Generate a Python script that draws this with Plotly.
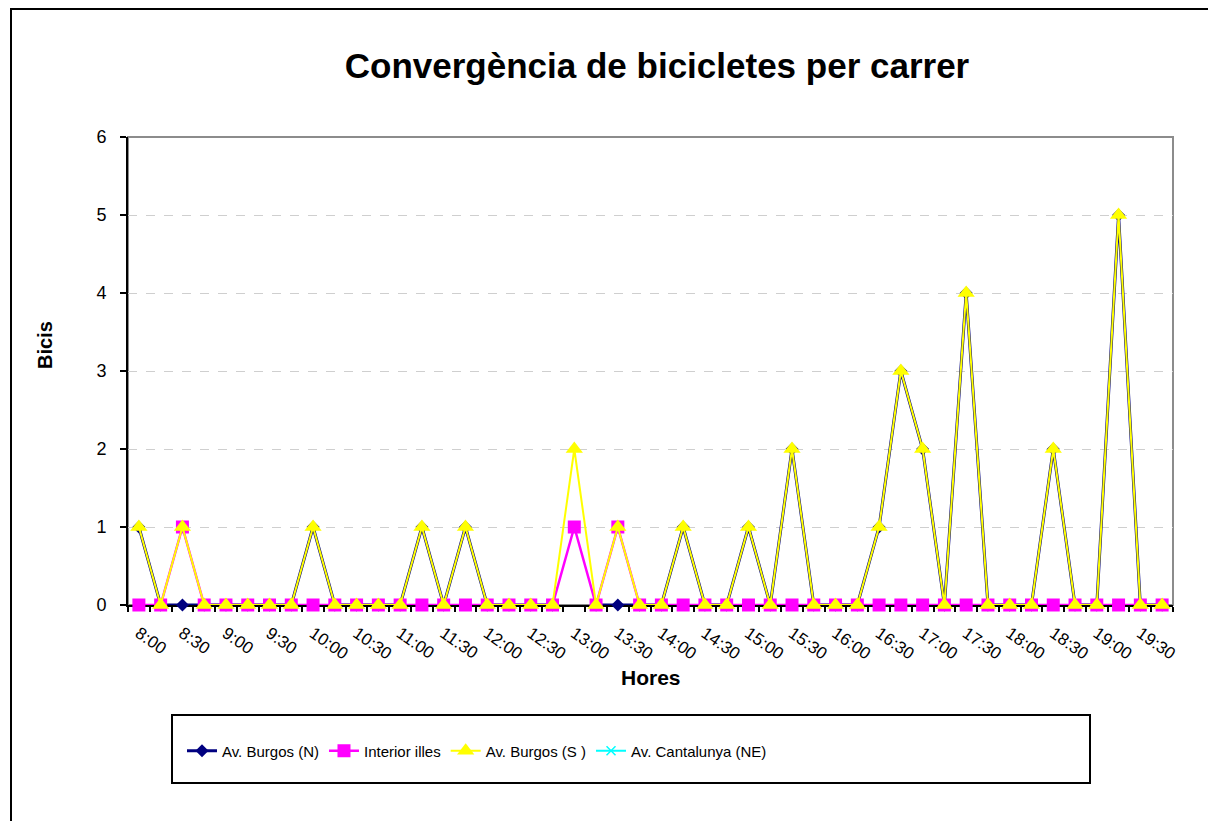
import plotly.graph_objects as go

# franges de 15 minuts
hores = ["8:00", "8:15", "8:30", "8:45", "9:00", "9:15", "9:30", "9:45",
         "10:00", "10:15", "10:30", "10:45", "11:00", "11:15", "11:30", "11:45",
         "12:00", "12:15", "12:30", "12:45", "13:00", "13:15", "13:30", "13:45",
         "14:00", "14:15", "14:30", "14:45", "15:00", "15:15", "15:30", "15:45",
         "16:00", "16:15", "16:30", "16:45", "17:00", "17:15", "17:30", "17:45",
         "18:00", "18:15", "18:30", "18:45", "19:00", "19:15", "19:30", "19:45"]

etiquetes = ["8:00", "", "8:30", "", "9:00", "", "9:30", "",
             "10:00", "", "10:30", "", "11:00", "", "11:30", "",
             "12:00", "", "12:30", "", "13:00", "", "13:30", "",
             "14:00", "", "14:30", "", "15:00", "", "15:30", "",
             "16:00", "", "16:30", "", "17:00", "", "17:30", "",
             "18:00", "", "18:30", "", "19:00", "", "19:30", ""]

av_burgos_n = [1, 0, 0, 0, 0, 0, 0, 0, 1, 0, 0, 0, 0, 1, 0, 1,
               0, 0, 0, 0, None, 0, 0, 0, 0, 1, 0, 0, 1, 0, 2, 0,
               0, 0, 1, 3, 2, 0, 4, 0, 0, 0, 2, 0, 0, 5, 0, 0]

interior_illes = [0, 0, 1, 0, 0, 0, 0, 0, 0, 0, 0, 0, 0, 0, 0, 0,
                  0, 0, 0, 0, 1, 0, 1, 0, 0, 0, 0, 0, 0, 0, 0, 0,
                  0, 0, 0, 0, 0, 0, 0, 0, 0, 0, 0, 0, 0, 0, 0, 0]

av_burgos_s = [1, 0, 1, 0, 0, 0, 0, 0, 1, 0, 0, 0, 0, 1, 0, 1,
               0, 0, 0, 0, 2, 0, 1, 0, 0, 1, 0, 0, 1, 0, 2, 0,
               0, 0, 1, 3, 2, 0, 4, 0, 0, 0, 2, 0, 0, 5, 0, 0]

av_cantalunya_ne = [None] * 48  # sense dades

FONT = "Liberation Sans, Arial, sans-serif"

fig = go.Figure()
fig.add_trace(go.Scatter(x=hores, y=av_burgos_n, name="Av. Burgos (N)", mode="lines+markers",
                         line=dict(color="#000080", width=3),
                         marker=dict(symbol="diamond", size=10, color="#000080"),
                         connectgaps=False, cliponaxis=False))
fig.add_trace(go.Scatter(x=hores, y=interior_illes, name="Interior illes", mode="lines+markers",
                         line=dict(color="#FF00FF", width=2.5),
                         marker=dict(symbol="square", size=13, color="#FF00FF"),
                         cliponaxis=False))
fig.add_trace(go.Scatter(x=hores, y=av_burgos_s, name="Av. Burgos (S )", mode="lines+markers",
                         line=dict(color="#FFFF00", width=2),
                         marker=dict(symbol="triangle-up", size=15, color="#FFFF00"),
                         cliponaxis=False))
fig.add_trace(go.Scatter(x=hores, y=av_cantalunya_ne, name="Av. Cantalunya (NE)", mode="lines+markers",
                         line=dict(color="#00FFFF", width=2),
                         marker=dict(symbol="x-thin-open", size=9, line=dict(color="#00FFFF", width=1.5))))

W, H = 1208, 821
L, R, T, B = 128, 35, 137, 216
pw, ph = W - L - R, H - T - B

def px(x):
    return (x - L) / pw

def py(y):
    return (T + ph - y) / ph

fig.update_layout(
    width=W, height=H,
    margin=dict(l=L, r=R, t=T, b=B),
    paper_bgcolor="white", plot_bgcolor="white",
    font=dict(family=FONT, color="black", size=16),
    title=dict(text="<b>Convergència de bicicletes per carrer</b>",
               font=dict(size=35, family=FONT), xref="paper", x=px(657), xanchor="center",
               y=1 - 66 / H, yref="container", yanchor="middle"),
    xaxis=dict(type="category", range=[-0.5, 47.5], tickmode="array",
               tickvals=hores, ticktext=etiquetes, tickson="boundaries",
               ticks="outside", ticklen=5, tickwidth=1.5, tickcolor="black",
               tickangle=35, tickfont=dict(size=17), ticklabelstandoff=10,
               showline=True, linecolor="black", linewidth=2,
               showgrid=False, zeroline=False, layer="below traces"),
    yaxis=dict(range=[0, 6], dtick=1, ticks="outside", ticklen=6, tickwidth=1.5,
               tickcolor="black", tickfont=dict(size=18), ticklabelstandoff=10,
               showline=True, linecolor="black", linewidth=2,
               showgrid=True, gridcolor="#cfcfcf", griddash="dash", gridwidth=1,
               zeroline=False, layer="below traces"),
    legend=dict(orientation="h", x=px(182), xanchor="left", y=py(751), yanchor="middle",
                font=dict(size=15, family=FONT), bgcolor="rgba(0,0,0,0)", itemwidth=30),
    shapes=[
        dict(type="rect", xref="paper", yref="paper", x0=0, x1=1, y0=0, y1=1,
             line=dict(color="#8c8c8c", width=2), layer="below"),
        dict(type="rect", xref="paper", yref="paper", x0=px(172), x1=px(1090),
             y0=py(783), y1=py(715), line=dict(color="black", width=2)),
        dict(type="rect", xref="paper", yref="paper", x0=px(11), x1=px(1240),
             y0=py(850), y1=py(9), line=dict(color="black", width=2)),
    ],
    annotations=[
        dict(text="<b>Bicis</b>", xref="paper", yref="paper", x=px(45), y=py(345),
             xanchor="center", yanchor="middle",
             textangle=-90, showarrow=False, font=dict(size=20)),
        dict(text="<b>Hores</b>", xref="paper", yref="paper", x=px(651), y=py(677),
             xanchor="center", yanchor="middle",
             showarrow=False, font=dict(size=21)),
    ],
)

fig.write_html("out.html", config={"displayModeBar": False},
               post_script="document.body.style.margin='0';")
